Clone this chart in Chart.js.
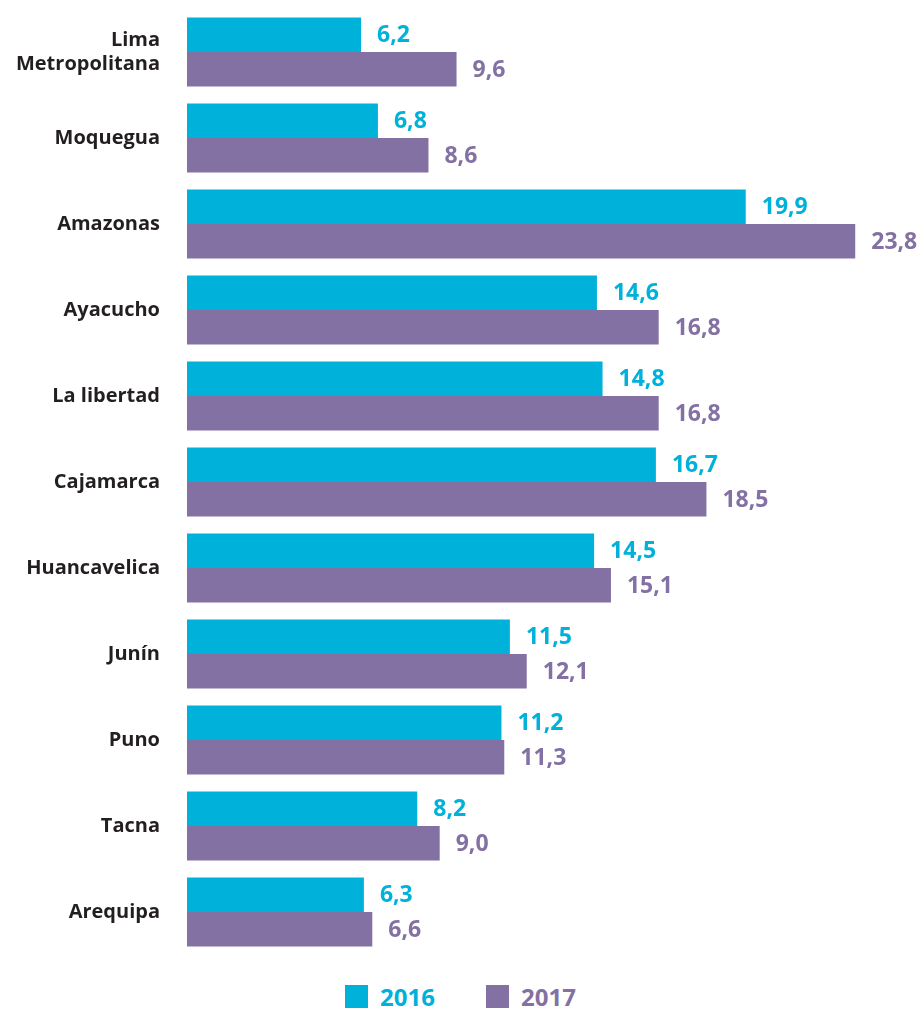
<!DOCTYPE html>
<html>
<head>
<meta charset="utf-8">
<script src="https://cdn.jsdelivr.net/npm/chart.js@4"></script>
<style>
  html, body { margin: 0; padding: 0; background: #fff; }
  #wrap { width: 920px; height: 965px; position: relative; }
  #legenda { width: 920px; height: 44px; position: relative; font-family: 'Open Sans', sans-serif;
    font-weight: bold; font-size: 24px; }
  .item { position: absolute; top: 20px; height: 23px; line-height: 23px; }
  .item span.caixa { display: inline-block; width: 23px; height: 23px; vertical-align: top; margin-right: 12px; }
</style>
</head>
<body>
<div id="wrap"><canvas id="grafico"></canvas></div>
<div id="legenda"></div>
<script>
const regioes = [['Lima', 'Metropolitana'], 'Moquegua', 'Amazonas', 'Ayacucho', 'La libertad',
  'Cajamarca', 'Huancavelica', 'Junín', 'Puno', 'Tacna', 'Arequipa'];
const valores2016 = [6.2, 6.8, 19.9, 14.6, 14.8, 16.7, 14.5, 11.5, 11.2, 8.2, 6.3];
const valores2017 = [9.6, 8.6, 23.8, 16.8, 16.8, 18.5, 15.1, 12.1, 11.3, 9.0, 6.6];
const anos = ['2016', '2017'];

const corCiano = '#00B1DA';
const corRoxo = '#8471A3';
const fonte = "'Open Sans', sans-serif";

// rótulos com os valores ao lado das barras
const rotulosValores = {
  id: 'rotulosValores',
  afterDatasetsDraw(chart) {
    const ctx = chart.ctx;
    ctx.save();
    ctx.font = "bold 23px " + fonte;
    ctx.textBaseline = 'middle';
    ctx.textAlign = 'left';
    chart.data.datasets.forEach((ds, i) => {
      const meta = chart.getDatasetMeta(i);
      ctx.fillStyle = ds.backgroundColor;
      meta.data.forEach((barra, j) => {
        const txt = ds.data[j].toFixed(1).replace('.', ',');
        ctx.fillText(txt, barra.x + 16, barra.y + 1);
      });
    });
    ctx.restore();
  }
};

const grafico = new Chart(document.getElementById('grafico'), {
  type: 'bar',
  data: {
    labels: regioes,
    datasets: [
      { label: anos[0], data: valores2016, backgroundColor: corCiano },
      { label: anos[1], data: valores2017, backgroundColor: corRoxo }
    ]
  },
  options: {
    indexAxis: 'y',
    responsive: true,
    maintainAspectRatio: false,
    animation: false,
    layout: { padding: { top: 9, right: 3, bottom: 10, left: 0 } },
    datasets: { bar: { categoryPercentage: 0.805, barPercentage: 1.0 } },
    scales: {
      x: { display: false, min: 0, max: 26 },
      y: {
        afterFit: (escala) => {
          escala.width = 187;
          // sem margem extra por causa do rótulo de duas linhas
          escala.paddingTop = 0;
          escala.paddingBottom = 0;
        },
        grid: { display: false, drawTicks: false },
        border: { display: false },
        ticks: {
          padding: 27,
          color: '#231F20',
          font: { family: fonte, size: 20, weight: 'bold', lineHeight: 1.2 }
        }
      }
    },
    plugins: {
      tooltip: { enabled: false },
      legend: { display: false }
    }
  },
  plugins: [rotulosValores]
});

// legenda em html, abaixo do gráfico
const legenda = document.getElementById('legenda');
const posicoes = [345, 486];
grafico.data.datasets.forEach((ds, i) => {
  const item = document.createElement('div');
  item.className = 'item';
  item.style.left = posicoes[i] + 'px';
  item.style.color = ds.backgroundColor;
  item.innerHTML = `<span class="caixa" style="background:${ds.backgroundColor}"></span>${ds.label}`;
  legenda.appendChild(item);
});
</script>
</body>
</html>
